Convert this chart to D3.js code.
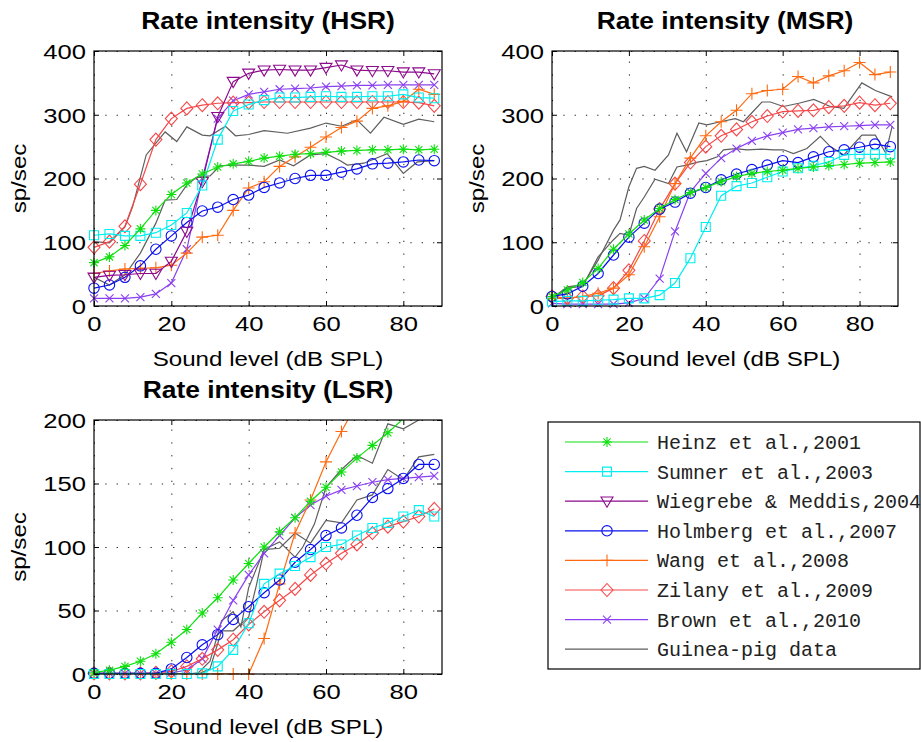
<!DOCTYPE html>
<html>
<head>
<meta charset="utf-8">
<script src="https://cdnjs.cloudflare.com/ajax/libs/d3/7.8.5/d3.min.js"></script>
<style>
body { margin: 0; background: #fff; }
svg { display: block; }
</style>
</head>
<body>
<div id="chart"></div>
<script>
// sound levels (dB SPL) of the model curves
var levels = [0, 4, 8, 12, 16, 20, 24, 28, 32, 36, 40, 44, 48, 52, 56, 60, 64, 68, 72, 76, 80, 84, 88];

// ---- HSR (sp/sec) ----
var hsrHeinz    = [68, 77, 95, 121, 150, 175, 193, 207, 218, 223, 227, 232, 235, 238, 239, 241, 243, 244, 245, 245, 246, 245, 246];
var hsrSumner   = [111, 113, 110, 110, 115, 127, 146, 189, 261, 306, 316, 323, 327, 327, 328, 329, 328, 328, 329, 329, 332, 327, 326];
var hsrWiegrebe = [45, 48, 49, 51, 51, 70, 117, 195, 297, 352, 365, 370, 371, 370, 370, 374, 378, 370, 369, 369, 367, 367, 364];
var hsrHolmberg = [28, 33, 45, 63, 89, 110, 131, 149, 155, 167, 174, 186, 193, 200, 205, 205, 210, 215, 223, 224, 226, 229, 228];
var hsrWang     = [51, 55, 58, 59, 60, 64, 83, 108, 111, 150, 185, 195, 219, 234, 249, 265, 280, 290, 310, 314, 321, 340, 332];
var hsrZilany   = [92, 101, 125, 191, 261, 294, 310, 315, 318, 319, 319, 320, 320, 320, 320, 320, 320, 320, 320, 320, 320, 319, 314];
var hsrBrown    = [12, 12, 12, 14, 19, 36, 89, 200, 294, 322, 332, 336, 340, 341, 342, 344, 345, 346, 346, 347, 347, 347, 347];
var hsrPigA = [[0, 101], [4, 99], [8, 124], [10, 156], [13.5, 237], [18.4, 273], [21.4, 258], [24, 281], [28, 268], [30, 267], [34, 282],
               [36.6, 267], [40, 269], [44, 275], [50, 271], [56, 279], [60, 287], [64, 282], [68, 292], [71.5, 271], [75, 296], [80, 285], [84, 293], [88, 289]];
var hsrPigB = [[0, 45], [4, 33], [8, 49], [12, 83], [16, 130], [18.4, 166], [21.4, 167], [24, 190], [26.6, 202], [30, 204], [32.6, 220],
               [36.6, 221], [40, 221], [44, 219], [48, 229], [51.6, 220], [56, 237], [60, 239], [63.7, 228], [65.5, 221], [69.8, 224], [75.8, 239], [80, 208], [83.6, 226], [88, 228]];

// ---- MSR (sp/sec) ----
var msrHeinz    = [15, 25, 37, 59, 89, 113, 135, 153, 167, 178, 186, 195, 203, 208, 211, 213, 216, 218, 220, 222, 224, 225, 226];
var msrSumner   = [7, 8, 8, 9, 10, 12, 12, 17, 36, 75, 124, 173, 188, 193, 202, 211, 216, 220, 226, 237, 238, 238, 238];
var msrHolmberg = [15, 19, 31, 51, 80, 108, 130, 152, 163, 177, 186, 198, 207, 214, 221, 228, 225, 234, 242, 245, 249, 254, 250];
var msrWang     = [12, 12, 15, 20, 28, 49, 93, 140, 192, 232, 267, 289, 307, 333, 338, 340, 360, 350, 361, 369, 382, 363, 367];
var msrZilany   = [15, 12, 15, 16, 28, 56, 102, 152, 192, 225, 250, 267, 277, 289, 298, 305, 306, 307, 312, 314, 319, 315, 318];
var msrBrown    = [4, 3, 3, 3, 3, 5, 12, 43, 117, 179, 208, 232, 247, 259, 267, 272, 277, 279, 281, 282, 283, 284, 284];
var msrPigA = [[0, 12], [4, 30], [8, 33], [12, 72], [16, 119], [17.7, 135], [20, 187], [22, 216], [24, 219], [26.8, 213], [30.3, 237], [32.5, 271],
               [35, 242], [38.2, 287], [40.3, 284], [43.8, 289], [47.7, 294], [49.8, 289], [54.6, 320], [56.8, 320], [60.2, 313], [64.2, 318],
               [68.1, 324], [72.4, 313], [75.9, 310], [80.6, 350], [84.1, 338], [88.5, 328]];
var msrPigB = [[0, 10], [4, 28], [8, 31], [12, 77], [16, 104], [17.7, 114], [20, 111], [22, 153], [24, 171], [26.8, 199], [30.3, 192], [32.5, 218],
               [35, 221], [38.2, 226], [40.3, 228], [43, 234], [44.6, 245], [47.7, 247], [50.7, 245], [54.6, 246], [57.6, 245], [60.2, 245],
               [62.8, 239], [66.3, 247], [69.8, 266], [72.4, 250], [75.9, 237], [80.6, 268], [84.1, 268], [86.8, 240], [88.5, 282]];

// ---- LSR (sp/sec) ----
var lsrHeinz    = [1, 3, 6, 10, 16, 25, 35, 48, 60, 74, 87, 100, 112, 123, 136, 147, 159, 170, 180, 190, 201, 212, 222];
var lsrSumner   = [0, 0, 0, 0, 0, 0, 0, 0.5, 6, 19, 40, 71, 79, 85, 92, 100, 102, 109, 115, 119, 124, 129, 124];
var lsrHolmberg = [0.5, 0.5, 0.5, 0.5, 0.5, 4, 13, 23, 31, 43, 53, 64, 74, 88, 98, 109, 115, 125, 139, 146, 154, 165, 165];
var lsrWang     = [0, 0, 0, 0, 0, 0, 0, 0, 0, 0, 0, 28, 71, 111, 137, 167, 191, 213];
var lsrZilany   = [0.5, 0.5, 0.5, 0.5, 1, 2, 6, 12, 19, 27, 39, 49, 58, 67, 78, 87, 95, 102, 111, 116, 120, 124, 130];
var lsrBrown    = [0.5, 0.5, 0.5, 0.5, 0.5, 1, 3, 12, 35, 58, 78, 95, 109, 123, 133, 140, 145, 148, 151, 153, 154, 155, 156];
var lsrPigA = [[0, 0], [24, 0], [27, 1], [30, 10], [33, 42], [36, 49], [38, 37], [40, 68], [44, 98], [48, 104], [52, 92], [54, 100],
               [57, 118], [60, 147], [64, 161], [68, 172], [72, 166], [76, 197], [80, 193], [84, 200], [88, 204]];
var lsrPigB = [[0, 0], [27, 0], [30, 4], [33, 34], [36, 34], [40, 45], [42, 70], [44, 98], [48, 99], [52, 111], [56, 103], [60, 121],
               [64, 119], [68, 137], [72, 141], [76, 161], [80, 153], [84, 171], [88, 173]];

var xTicks = [0, 20, 40, 60, 80];
var yTicksHigh = [0, 100, 200, 300, 400];
var yTicksLow = [0, 50, 100, 150, 200];

var legendNames = ["Heinz et al.,2001", "Sumner et al.,2003", "Wiegrebe & Meddis,2004", "Holmberg et al.,2007",
                   "Wang et al.,2008", "Zilany et al.,2009", "Brown et al.,2010", "Guinea-pig data"];

// model styles (order = legend order)
var models = [
	{ key: "heinz",    color: "#10e010", marker: "star" },
	{ key: "sumner",   color: "#00eef0", marker: "square" },
	{ key: "wiegrebe", color: "#8c0a8c", marker: "tri" },
	{ key: "holmberg", color: "#0a10ee", marker: "circle" },
	{ key: "wang",     color: "#ff6a10", marker: "plus" },
	{ key: "zilany",   color: "#f5484a", marker: "diamond" },
	{ key: "brown",    color: "#8a40f0", marker: "x" },
	{ key: "pig",      color: "#5e5e5e", marker: null }
];

var panels = [
	{ title: "Rate intensity (HSR)", left: 94, right: 442, top: 51, bottom: 306, ymax: 400, yTicks: yTicksHigh,
	  series: { heinz: hsrHeinz, sumner: hsrSumner, wiegrebe: hsrWiegrebe, holmberg: hsrHolmberg, wang: hsrWang, zilany: hsrZilany, brown: hsrBrown },
	  pig: [hsrPigA, hsrPigB] },
	{ title: "Rate intensity (MSR)", left: 552, right: 898, top: 51, bottom: 306, ymax: 400, yTicks: yTicksHigh,
	  series: { heinz: msrHeinz, sumner: msrSumner, holmberg: msrHolmberg, wang: msrWang, zilany: msrZilany, brown: msrBrown },
	  pig: [msrPigA, msrPigB] },
	{ title: "Rate intensity (LSR)", left: 94, right: 442, top: 420, bottom: 674, ymax: 200, yTicks: yTicksLow,
	  series: { heinz: lsrHeinz, sumner: lsrSumner, holmberg: lsrHolmberg, wang: lsrWang, zilany: lsrZilany, brown: lsrBrown },
	  pig: [lsrPigA, lsrPigB] }
];

const sansFont = "'Liberation Sans', Arial, Helvetica, sans-serif";
const monoFont = "'Liberation Mono', 'Courier New', monospace";
const tickStretch = 1.25, labelStretch = 1.15, titleStretch = 1.1;

var svg = d3.select("#chart").append("svg")
	.attr("width", 921)
	.attr("height", 742);

// marker shapes, centered on 0,0
function markerPath(type) {
	switch (type) {
		case "star":    return "M-5,0H5M0,-5V5M-3.6,-3.6L3.6,3.6M-3.6,3.6L3.6,-3.6";
		case "square":  return "M-4.5,-4.5H4.5V4.5H-4.5Z";
		case "tri":     return "M-6,-4.2H6L0,6Z";
		case "circle":  return "M5.2,0A5.2,5.2 0 1,1 -5.2,0A5.2,5.2 0 1,1 5.2,0Z";
		case "plus":    return "M-6,0H6M0,-6V6";
		case "diamond": return "M0,-6.5L6,0L0,6.5L-6,0Z";
		case "x":       return "M-4,-4L4,4M-4,4L4,-4";
	}
	return "";
}

panels.forEach(function (p, pi) {
	var w = p.right - p.left, h = p.bottom - p.top;
	var xScale = d3.scaleLinear().domain([0, 90]).range([0, w]);
	var yScale = d3.scaleLinear().domain([0, p.ymax]).range([h, 0]);

	var g = svg.append("g").attr("transform", "translate(" + p.left + "," + p.top + ")");

	g.append("rect").attr("width", w).attr("height", h).attr("fill", "#fff");

	// dotted grid
	g.append("g").attr("class", "grid")
		.attr("transform", "translate(0," + h + ")")
		.call(d3.axisBottom(xScale).tickValues(xTicks).tickSize(-h).tickFormat(""))
		.call(function (s) {
			s.select(".domain").remove();
			s.selectAll("line").attr("stroke", "#222").attr("stroke-dasharray", "1.3,11.5");
		});
	g.append("g").attr("class", "grid")
		.call(d3.axisLeft(yScale).tickValues(p.yTicks).tickSize(-w).tickFormat(""))
		.call(function (s) {
			s.select(".domain").remove();
			s.selectAll("line").attr("stroke", "#222").attr("stroke-dasharray", "1.3,10");
		});

	var clipId = "clip" + pi;
	svg.append("clipPath").attr("id", clipId)
		.append("rect").attr("width", w).attr("height", h);

	var line = d3.line()
		.x(function (d) { return xScale(d[0]); })
		.y(function (d) { return yScale(d[1]); })
		.curve(d3.curveLinear);

	var plot = g.append("g");

	// guinea-pig data
	p.pig.forEach(function (pts) {
		plot.append("path")
			.datum(pts)
			.attr("clip-path", "url(#" + clipId + ")")
			.attr("fill", "none")
			.attr("stroke", models[7].color)
			.attr("stroke-width", 1.2)
			.attr("d", line);
	});

	// model curves, drawn in reverse legend order so Heinz sits on top
	models.slice(0, 7).slice().reverse().forEach(function (m) {
		var vals = p.series[m.key];
		if (!vals) return;
		var pts = vals.map(function (v, i) { return [levels[i], v]; });
		var sg = plot.append("g");
		sg.append("path")
			.datum(pts)
			.attr("clip-path", "url(#" + clipId + ")")
			.attr("fill", "none")
			.attr("stroke", m.color)
			.attr("stroke-width", 1.2)
			.attr("d", line);
		sg.selectAll("path.mk")
			.data(pts.filter(function (d) { return d[1] <= p.ymax; }))
			.enter()
			.append("path")
			.attr("class", "mk")
			.attr("transform", function (d) { return "translate(" + xScale(d[0]) + "," + yScale(d[1]) + ")"; })
			.attr("d", markerPath(m.marker))
			.attr("fill", "none")
			.attr("stroke", m.color)
			.attr("stroke-width", 1.1);
	});

	// box
	g.append("rect").attr("width", w).attr("height", h)
		.attr("fill", "none").attr("stroke", "#000").attr("stroke-width", 1.2);

	// inward ticks on all four sides
	var tk = 5;
	var xb = g.append("g").attr("transform", "translate(0," + h + ")")
		.call(d3.axisBottom(xScale).tickValues(xTicks).tickSizeInner(-tk).tickSizeOuter(0).tickPadding(9));
	var yl = g.append("g")
		.call(d3.axisLeft(yScale).tickValues(p.yTicks).tickSizeInner(-tk).tickSizeOuter(0).tickPadding(8));
	g.append("g")
		.call(d3.axisTop(xScale).tickValues(xTicks).tickSizeInner(-tk).tickSizeOuter(0).tickFormat(""));
	g.append("g").attr("transform", "translate(" + w + ",0)")
		.call(d3.axisRight(yScale).tickValues(p.yTicks).tickSizeInner(-tk).tickSizeOuter(0).tickFormat(""));

	g.selectAll(".domain").remove();
	g.selectAll(".tick line").filter(function () { return !this.parentNode.parentNode.classList.contains("grid"); })
		.attr("stroke", "#000").attr("stroke-width", 1);

	xb.selectAll("text")
		.attr("font-family", sansFont).attr("font-size", 20.5).attr("fill", "#000")
		.attr("dy", "0.76em")
		.attr("transform", "scale(" + tickStretch + ",1)");
	yl.selectAll("text")
		.attr("font-family", sansFont).attr("font-size", 20.5).attr("fill", "#000")
		.attr("x", -8 / tickStretch)
		.attr("dy", "0.36em")
		.attr("transform", "scale(" + tickStretch + ",1)");

	// titles and axis labels
	svg.append("text")
		.attr("transform", "translate(" + (p.left + w / 2) + "," + (p.top - 22) + ") scale(" + titleStretch + ",1)")
		.attr("text-anchor", "middle")
		.attr("font-family", sansFont).attr("font-weight", "bold").attr("font-size", 24)
		.text(p.title);
	svg.append("text")
		.attr("transform", "translate(" + (p.left + w / 2) + "," + (p.bottom + 60) + ") scale(" + labelStretch + ",1)")
		.attr("text-anchor", "middle")
		.attr("font-family", sansFont).attr("font-size", 21)
		.text("Sound level (dB SPL)");
	svg.append("text")
		.attr("transform", "translate(" + (p.left - 68) + "," + (p.top + h / 2) + ") rotate(-90) scale(" + labelStretch + ",1)")
		.attr("text-anchor", "middle")
		.attr("font-family", sansFont).attr("font-size", 21)
		.text("sp/sec");
});

// legend
var lg = svg.append("g").attr("transform", "translate(548,422)");
lg.append("rect").attr("width", 372).attr("height", 247)
	.attr("fill", "#fff").attr("stroke", "#000").attr("stroke-width", 1.2);

var rows = lg.selectAll("g.row")
	.data(models)
	.enter()
	.append("g")
	.attr("class", "row")
	.attr("transform", function (d, i) { return "translate(0," + (20 + i * 29.6) + ")"; });

rows.append("line")
	.attr("x1", 17).attr("x2", 100)
	.attr("stroke", function (d) { return d.color; })
	.attr("stroke-width", 1.2);
rows.filter(function (d) { return d.marker; })
	.append("path")
	.attr("transform", "translate(59,0)")
	.attr("d", function (d) { return markerPath(d.marker); })
	.attr("fill", "none")
	.attr("stroke", function (d) { return d.color; })
	.attr("stroke-width", 1.1);
rows.append("text")
	.attr("x", 109)
	.attr("dy", "0.35em")
	.attr("font-family", monoFont)
	.attr("font-size", 20)
	.attr("fill", "#222")
	.text(function (d, i) { return legendNames[i]; });
</script>
</body>
</html>
